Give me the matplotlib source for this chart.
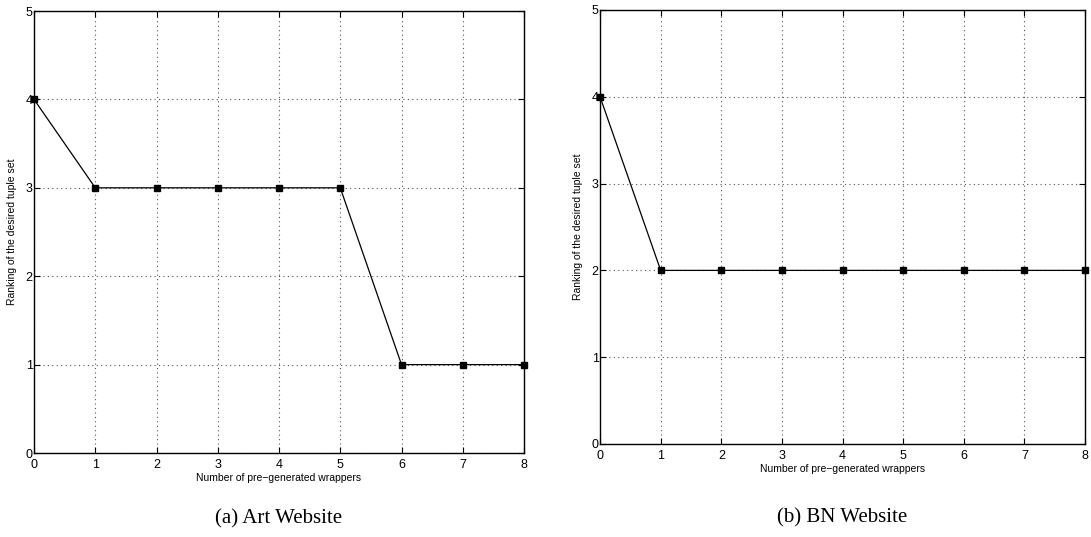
import matplotlib.pyplot as plt

# wrappers count on x, ranking on y
wrappers = [0, 1, 2, 3, 4, 5, 6, 7, 8]
art_rank = [4, 3, 3, 3, 3, 3, 1, 1, 1]
bn_rank = [4, 2, 2, 2, 2, 2, 2, 2, 2]
captions = ["(a) Art Website", "(b) BN Website"]

plt.rcParams['font.family'] = ['Liberation Sans', 'DejaVu Sans']

fig = plt.figure(figsize=(10.91, 5.37), dpi=100)
ax1 = fig.add_axes([0.0312, 0.1564, 0.4491, 0.8231])
ax2 = fig.add_axes([0.5500, 0.1732, 0.4446, 0.8082])

for ax, ranks, cap in zip([ax1, ax2], [art_rank, bn_rank], captions):
    ax.plot(wrappers, ranks, color='black', linewidth=0.9, marker='s',
            markersize=4.5, markerfacecolor='black', clip_on=False, zorder=3)
    ax.set_xlim(0, 8)
    ax.set_ylim(0, 5)
    ax.set_xticks(range(0, 9))
    ax.set_yticks(range(0, 6))
    ax.grid(True, linestyle=(0, (1, 3)), color='#555555', linewidth=0.8)
    ax.tick_params(direction='in', top=True, right=True, labelsize=9,
                   length=4)
    ax.tick_params(axis='x', pad=4)
    ax.tick_params(axis='y', pad=1)
    for s in ax.spines.values():
        s.set_linewidth(1.0)
    ax.set_xlabel('Number of pre\u2212generated wrappers', fontsize=7.5, labelpad=2)
    ax.set_ylabel('Ranking of the desired tuple set', fontsize=7.5, labelpad=6)
    ax.text(0.5, -0.128 if ax is ax1 else -0.148, cap, transform=ax.transAxes,
            ha='center', va='top', fontsize=15, family='Liberation Serif')

fig.savefig('out.png', dpi=100)
